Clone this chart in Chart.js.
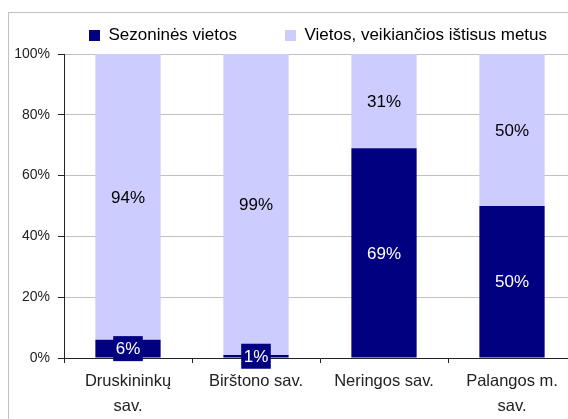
<html>
<head>
<meta charset="utf-8">
<script src="https://cdn.jsdelivr.net/npm/chart.js@4.4.1/dist/chart.umd.min.js"></script>
<style>
  body { margin: 0; overflow: hidden; background: #fff; }
</style>
</head>
<body>
<canvas id="myChart" width="576" height="419"></canvas>
<script>
// data
var categories = [['Druskininkų', 'sav.'], 'Birštono sav.', 'Neringos sav.', ['Palangos m.', 'sav.']];
var seasonal = [6, 1, 69, 50];
var yearRound = [94, 99, 31, 50];
var seriesNames = ['Sezoninės vietos', 'Vietos, veikiančios ištisus metus'];

var font = '"Liberation Sans", Arial, sans-serif';

// grey outer frame like the spreadsheet chart
var frame = {
  id: 'frame',
  beforeDraw: function (chart) {
    var ctx = chart.ctx;
    ctx.save();
    ctx.fillStyle = '#fff';
    ctx.fillRect(0, 0, chart.width, chart.height);
    ctx.strokeStyle = '#c0c0c0';
    ctx.lineWidth = 1;
    ctx.strokeRect(8.5, 12.5, chart.width + 20, chart.height + 20);
    ctx.restore();
  }
};

// keep both legend entries on one row, a bit right of centre
var legendRow = {
  id: 'legendRow',
  beforeInit: function (chart) {
    var fit = chart.legend.fit;
    chart.legend.fit = function () {
      this.maxWidth = 700;
      fit.call(this);
    };
  },
  afterLayout: function (chart) {
    chart.legend.left += 20;
    chart.legend.right += 40;
  }
};

// percentage labels in the middle of each segment
var barLabels = {
  id: 'barLabels',
  afterDatasetsDraw: function (chart) {
    var ctx = chart.ctx;
    ctx.save();
    ctx.font = '17px ' + font;
    ctx.textAlign = 'center';
    ctx.textBaseline = 'middle';
    chart.data.datasets.forEach(function (ds, i) {
      chart.getDatasetMeta(i).data.forEach(function (bar, j) {
        var txt = ds.data[j] + '%';
        var p = bar.getCenterPoint();
        if (i === 0) {
          var w = ctx.measureText(txt).width + 5;
          ctx.fillStyle = ds.backgroundColor;
          ctx.fillRect(p.x - w / 2, p.y - 12.5, w, 25);
          ctx.fillStyle = '#fff';
        } else {
          ctx.fillStyle = '#000';
        }
        ctx.fillText(txt, p.x, p.y + 1);
      });
    });
    ctx.restore();
  }
};

var ctx = document.getElementById('myChart').getContext('2d');
var myChart = new Chart(ctx, {
  type: 'bar',
  data: {
    labels: categories,
    datasets: [
      { label: seriesNames[0], data: seasonal, backgroundColor: '#000080', borderWidth: 0 },
      { label: seriesNames[1], data: yearRound, backgroundColor: '#ccccff', borderWidth: 0 }
    ]
  },
  options: {
    responsive: false,
    animation: false,
    categoryPercentage: 1,
    barPercentage: 0.51,
    layout: { padding: { top: -21, left: 0, right: 0, bottom: 0 } },
    plugins: {
      legend: {
        position: 'top',
        labels: {
          boxWidth: 11,
          boxHeight: 11,
          padding: 48,
          color: '#000',
          font: { family: font, size: 17 }
        }
      },
      tooltip: { enabled: false }
    },
    scales: {
      x: {
        stacked: true,
        grid: { display: true, drawOnChartArea: false, offset: true, tickLength: 5, tickColor: '#222' },
        border: { color: '#222' },
        ticks: { color: '#222', font: { family: font, size: 16.5, lineHeight: 1.5 }, maxRotation: 0, autoSkip: false, padding: 6 },
        afterFit: function (scale) { scale.height = 61; }
      },
      y: {
        stacked: true,
        min: 0,
        max: 100,
        grid: { color: '#c0c0c0', tickColor: '#222', tickLength: 6 },
        border: { color: '#222' },
        ticks: {
          stepSize: 20,
          padding: 8,
          color: '#222',
          font: { family: font, size: 14 },
          callback: function (v) { return v + '%'; }
        },
        afterFit: function (scale) { scale.width = 64; }
      }
    }
  },
  plugins: [frame, legendRow, barLabels]
});
</script>
</body>
</html>
